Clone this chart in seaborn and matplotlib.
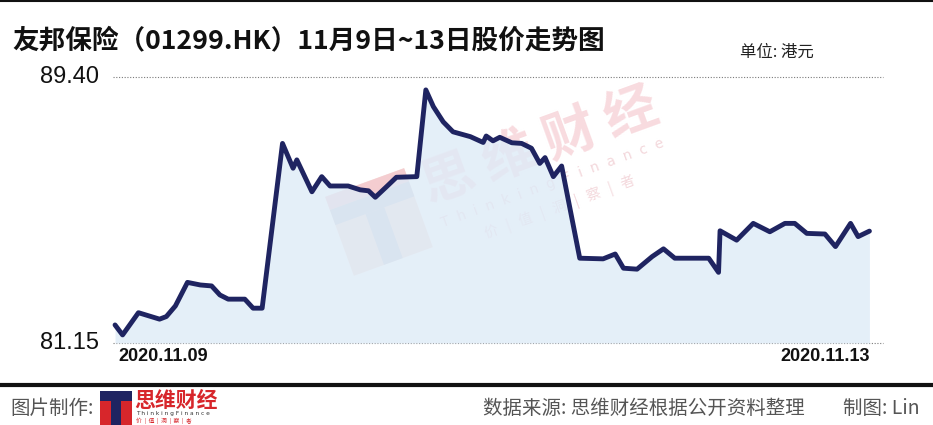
import numpy as np
import pandas as pd
import matplotlib

matplotlib.use("Agg")
import matplotlib.pyplot as plt
import matplotlib.patches as mpatches
import matplotlib.lines as mlines
import seaborn as sns

# price trace, 11/9 - 11/13 (x is a relative time position 0..100)
time_pos = [0, 1.0, 3.1, 5.9, 6.8, 8.0, 9.6, 11.3, 12.8, 13.9, 15.0, 17.2, 18.3, 19.5,
            22.2, 23.6, 24.1, 26.1, 27.4, 28.5, 30.9, 32.5, 33.6, 34.5, 36.0, 37.3, 40.0,
            41.2, 42.2, 43.5, 44.8, 47.1, 48.8, 49.2, 50.1, 51.0, 52.6, 53.9, 55.2, 56.3,
            57.0, 58.1, 59.2, 61.6, 64.7, 66.3, 67.4, 69.2, 71.2, 72.7, 74.2, 78.7, 80.0,
            80.2, 82.4, 84.6, 86.8, 88.8, 90.1, 91.7, 94.1, 95.5, 97.5, 98.5, 100]
price = [81.71, 81.40, 82.09, 81.89, 81.97, 82.30, 83.03, 82.95, 82.92, 82.64, 82.51, 82.51,
         82.23, 82.23, 87.34, 86.57, 86.83, 85.84, 86.31, 86.02, 86.02, 85.90, 85.87, 85.67,
         86.00, 86.29, 86.31, 89.00, 88.48, 88.01, 87.70, 87.55, 87.37, 87.57, 87.42, 87.53,
         87.36, 87.34, 87.19, 86.72, 86.90, 86.31, 86.64, 83.78, 83.76, 83.91, 83.47, 83.44,
         83.83, 84.07, 83.78, 83.78, 83.34, 84.63, 84.34, 84.86, 84.60, 84.86, 84.86, 84.55,
         84.53, 84.14, 84.86, 84.45, 84.62]
y_ticks = [81.15, 89.40]
x_labels = ["2020.11.09", "2020.11.13"]

title = "友邦保险（01299.HK）11月9日~13日股价走势图"
unit = "单位: 港元"
footer_left = "图片制作:"
footer_src = "数据来源: 思维财经根据公开资料整理"
footer_by = "制图: Lin"

W, H = 933, 425
LINE = "#1f2461"
FILL = "#deebf7"

sns.set_theme(style="white")
plt.rcParams["font.family"] = ["Noto Sans CJK SC", "DejaVu Sans"]

df = pd.DataFrame({"t": time_pos, "price": price})

fig = plt.figure(figsize=(W / 100, H / 100), dpi=100)


def fx(px):
    return px / W


def fy(py):
    return 1 - py / H


ax = fig.add_axes([fx(113), fy(343), fx(883) - fx(113), fy(77) - fy(343)])
ax.set_xlim(-0.27, 101.8)
ax.set_ylim(y_ticks[0], y_ticks[1])

# watermark (behind data)
ang = np.deg2rad(20)
rot = np.array([[np.cos(ang), np.sin(ang)], [-np.sin(ang), np.cos(ang)]])


def wm_poly(cx, cy, pts, color, alpha):
    pts = np.array(pts, dtype=float) @ rot.T
    xy = [(fx(cx + p[0]), fy(cy + p[1])) for p in pts]
    fig.add_artist(mpatches.Polygon(xy, closed=True, transform=fig.transFigure,
                                    facecolor=color, edgecolor="none", alpha=alpha, zorder=1))


cx, cy, s = 379, 222, 42
wm_poly(cx, cy, [(-s, -s), (s, -s), (s, s), (-s, s)], "#f3d2c4", 0.7)
wm_poly(cx, cy, [(-s, -s), (s, -s), (s, -s + 14), (-s, -s + 14)], "#f4c8cf", 0.75)
wm_poly(cx, cy, [(-s, -s + 14), (s, -s + 14), (s, -s + 30), (-s, -s + 30)], "#b9c3d6", 0.75)
wm_poly(cx, cy, [(-10, -s + 30), (10, -s + 30), (10, s), (-10, s)], "#b9c3d6", 0.75)

fig.text(fx(540), fy(146), "思 维 财 经", fontsize=38, fontweight="bold", color="#f2b8c0",
         alpha=0.5, rotation=20, ha="center", va="center", zorder=1)
fig.text(fx(553), fy(183), "T  h  i  n  k  i  n  g  F  i  n  a  n  c  e", fontsize=10,
         color="#e8b0b8", alpha=0.5, rotation=20, ha="center", va="center", zorder=1,
         family=["DejaVu Sans"])
fig.text(fx(560), fy(207), "价   |   值   |   洞   |   察   |   者", fontsize=10,
         color="#e8b0b8", alpha=0.5, rotation=20, ha="center", va="center", zorder=1)

ax.patch.set_alpha(0)
ax.set_zorder(2)

ax.fill_between(df["t"], df["price"], y_ticks[0], color=FILL, alpha=0.8, linewidth=0, zorder=1)
sns.lineplot(data=df, x="t", y="price", ax=ax, color=LINE, linewidth=3.5, zorder=3)
for ln in ax.get_lines():
    ln.set_clip_on(False)
    ln.set_solid_joinstyle("round")
    ln.set_solid_capstyle("round")

for v in y_ticks:
    ax.axhline(v, color="#7a7a7a", linestyle=(0, (1, 1.5)), linewidth=0.8, zorder=0,
               clip_on=False)

for sp in ax.spines.values():
    sp.set_visible(False)
ax.set_xticks([])
ax.set_yticks([])
ax.set_xlabel("")
ax.set_ylabel("")

num_font = ["Liberation Sans", "DejaVu Sans"]
for v in y_ticks:
    ax.text(-0.018, v, f"{v:.2f}", transform=ax.get_yaxis_transform(), ha="right",
            va="center", fontsize=17, color="#111111", family=num_font)

ax.text(time_pos[0] + 0.4, -0.052, x_labels[0], transform=ax.get_xaxis_transform(),
        ha="left", va="center", fontsize=13, fontweight="bold", color="#111111",
        family=num_font)
ax.text(time_pos[-1], -0.052, x_labels[1], transform=ax.get_xaxis_transform(),
        ha="right", va="center", fontsize=13, fontweight="bold", color="#111111",
        family=num_font)

# header
fig.text(fx(12), fy(41), title, fontsize=19.2, fontweight="bold", color="#111111",
         ha="left", va="center")
fig.text(fx(740), fy(52), unit, fontsize=11.8, color="#222222", ha="left", va="center")

# frame lines
fig.add_artist(mlines.Line2D([0, 1], [fy(1), fy(1)], transform=fig.transFigure,
                             color="#111111", linewidth=1.5))
fig.add_artist(mlines.Line2D([0, 1], [fy(385), fy(385)], transform=fig.transFigure,
                             color="#111111", linewidth=3))

# footer
fig.text(fx(10), fy(408), footer_left, fontsize=14, color="#555555", ha="left", va="center")
lx, ly = 100, 391
fig.add_artist(mpatches.Rectangle((fx(lx), fy(ly + 34)), fx(32), fy(0) - fy(34),
                                  transform=fig.transFigure, facecolor="#d7262b",
                                  edgecolor="none"))
fig.add_artist(mpatches.Rectangle((fx(lx), fy(ly + 10)), fx(32), fy(0) - fy(10),
                                  transform=fig.transFigure, facecolor="#1f2461",
                                  edgecolor="none"))
fig.add_artist(mpatches.Rectangle((fx(lx + 11), fy(ly + 34)), fx(10), fy(0) - fy(34),
                                  transform=fig.transFigure, facecolor="#1f2461",
                                  edgecolor="none"))
fig.text(fx(134), fy(400), "思维财经", fontsize=15, fontweight="bold", color="#d7262b",
         ha="left", va="center")
fig.text(fx(136), fy(414), "T h i n k i n g F i n a n c e", fontsize=4.2, color="#333333",
         ha="left", va="center", family=["DejaVu Sans"])
fig.text(fx(136), fy(421), "价  |  值  |  洞  |  察  |  者", fontsize=4.2, color="#d7262b",
         ha="left", va="center")

fig.text(fx(483), fy(408), footer_src, fontsize=14, color="#555555", ha="left", va="center")
fig.text(fx(920), fy(408), footer_by, fontsize=14, color="#555555", ha="right", va="center")

fig.savefig("out.png", dpi=100)
